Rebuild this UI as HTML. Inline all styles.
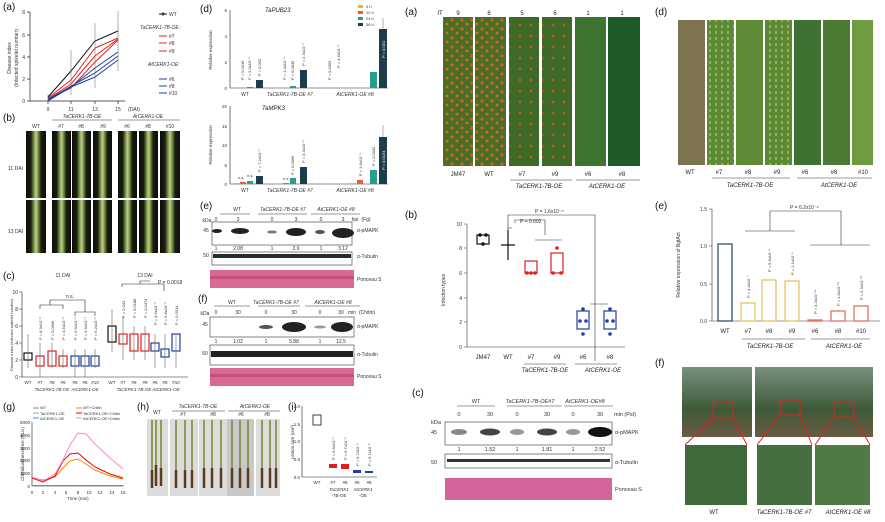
<!DOCTYPE html>
<html><head><meta charset="utf-8"><style>
html,body{margin:0;padding:0;background:#fff;}
svg{display:block;font-family:"Liberation Sans",Arial,sans-serif;}
.t{font-size:6px;fill:#222}
.s{font-size:5px;fill:#333}
.L{font-size:10px;fill:#111}
.i{font-style:italic}
</style></head><body>
<svg width="885" height="522" viewBox="0 0 885 522" xmlns="http://www.w3.org/2000/svg">
<defs>
<pattern id="rust" width="10" height="9" patternUnits="userSpaceOnUse">
<rect width="10" height="9" fill="#4a6e28"/><circle cx="2" cy="2" r="1.6" fill="#d0621e"/><circle cx="7" cy="6" r="1.4" fill="#d86a22"/></pattern>
<pattern id="rust2" width="11" height="11" patternUnits="userSpaceOnUse">
<rect width="11" height="11" fill="#3d6a26"/><circle cx="3" cy="3" r="1.4" fill="#c05a22"/></pattern>
<pattern id="spec" width="6" height="6" patternUnits="userSpaceOnUse">
<rect width="6" height="6" fill="#5c8a32"/><rect x="1" y="1" width="2" height="3" fill="#9aa86e"/></pattern>
<linearGradient id="spike" x1="0" x2="1"><stop offset="0" stop-color="#0d0d0d"/><stop offset=".25" stop-color="#1a2010"/><stop offset=".4" stop-color="#7a9a40"/><stop offset=".5" stop-color="#c9c6a0"/><stop offset=".6" stop-color="#7a9a40"/><stop offset=".75" stop-color="#1a2010"/><stop offset="1" stop-color="#0d0d0d"/></linearGradient>
<linearGradient id="field" x1="0" y1="0" x2="0" y2="1"><stop offset="0" stop-color="#7a8f80"/><stop offset=".6" stop-color="#3e5a38"/><stop offset="1" stop-color="#6b5a44"/></linearGradient>
</defs>

<!-- ===== Left (a) ===== -->
<text x="3" y="10" class="L">(a)</text>
<g stroke="#222" stroke-width=".7" fill="none">
<path d="M30 12V101H125"/>
<path d="M27 12H30M27 35H30M27 57H30M27 79H30M27 101H30M48 101v3M71 101v3M95 101v3M118 101v3"/>
</g>
<g class="s" text-anchor="end"><text x="25" y="14">8</text><text x="25" y="37">6</text><text x="25" y="59">4</text><text x="25" y="81">2</text><text x="25" y="103">0</text></g>
<g class="s" text-anchor="middle"><text x="48" y="111">9</text><text x="71" y="111">11</text><text x="95" y="111">13</text><text x="118" y="111">15</text><text x="134" y="111">(DAI)</text></g>
<text transform="translate(11,58) rotate(-90)" class="s" text-anchor="middle">Disease index</text>
<text transform="translate(18,58) rotate(-90)" class="s" text-anchor="middle">(Infected spikelet number)</text>
<g fill="none" stroke-width="1">
<polyline points="48,97 71,71 95,41 118,31" stroke="#111"/>
<polyline points="48,98 71,80 95,48 118,38" stroke="#e02020"/>
<polyline points="48,99 71,84 95,56 118,39" stroke="#e02020"/>
<polyline points="48,99 71,88 95,62 118,40" stroke="#e02020"/>
<polyline points="48,99 71,87 95,68 118,52" stroke="#2040a0"/>
<polyline points="48,100 71,86 95,73 118,56" stroke="#2040a0"/>
<polyline points="48,101 71,87 95,77 118,60" stroke="#2040a0"/>
</g>
<g stroke="#666" stroke-width=".5"><path d="M71 50V95M95 23V88M118 11V71M48 94V104"/></g>
<g class="s"><line x1="159" y1="14" x2="167" y2="14" stroke="#111"/><circle cx="163" cy="14" r="1.5"/><text x="169" y="16">WT</text>
<text x="140" y="29" class="i">TaCERK1-7B-OE:</text>
<line x1="159" y1="36" x2="167" y2="36" stroke="#e02020"/><text x="169" y="38">#7</text>
<line x1="159" y1="43" x2="167" y2="43" stroke="#e02020"/><text x="169" y="45">#8</text>
<line x1="159" y1="51" x2="167" y2="51" stroke="#e02020"/><text x="169" y="53">#9</text>
<text x="148" y="66" class="i">AtCERK1-OE:</text>
<line x1="159" y1="79" x2="167" y2="79" stroke="#2040a0"/><text x="169" y="81">#6</text>
<line x1="159" y1="86" x2="167" y2="86" stroke="#2040a0"/><text x="169" y="88">#8</text>
<line x1="159" y1="93" x2="167" y2="93" stroke="#2040a0"/><text x="169" y="95">#10</text></g>

<!-- ===== Left (b) photos ===== -->
<text x="3" y="121" class="L">(b)</text>
<g class="s" text-anchor="middle"><text x="36" y="128">WT</text><text x="82" y="118" class="i">TaCERK1-7B-OE</text><text x="148" y="118" class="i">AtCERK1-OE</text>
<text x="61" y="128">#7</text><text x="81" y="128">#8</text><text x="103" y="128">#9</text><text x="127" y="128">#6</text><text x="148" y="128">#8</text><text x="170" y="128">#10</text></g>
<path d="M52 120H112M118 120H180" stroke="#333" stroke-width=".5"/>
<text x="8" y="170" class="s">11 DAI</text><text x="8" y="233" class="s">13 DAI</text>
<g fill="url(#spike)">
<rect x="26" y="131" width="20" height="67"/><rect x="52" y="131" width="19" height="67"/><rect x="72" y="131" width="19" height="67"/><rect x="93" y="131" width="19" height="67"/><rect x="118" y="131" width="19" height="67"/><rect x="139" y="131" width="19" height="67"/><rect x="160" y="131" width="20" height="67"/>
<rect x="26" y="200" width="20" height="53"/><rect x="52" y="200" width="19" height="53"/><rect x="72" y="200" width="19" height="53"/><rect x="93" y="200" width="19" height="53"/><rect x="118" y="200" width="19" height="53"/><rect x="139" y="200" width="19" height="53"/><rect x="160" y="200" width="20" height="53"/>
</g>

<!-- ===== Left (c) boxplots ===== -->
<text x="3" y="279" class="L">(c)</text>
<text x="63" y="277" class="s" text-anchor="middle">11 DAI</text><text x="145" y="277" class="s" text-anchor="middle">13 DAI</text>
<text x="158" y="284" class="s">P = 0.0018</text>
<g stroke="#222" stroke-width=".6" fill="none">
<path d="M22 292V377H188M19 292h3M19 309h3M19 326h3M19 343h3M19 360h3M19 377h3"/>
<path d="M40 309V305H63V309M75 316V312H95V316M50 305V300H85V312M122 287V284H164V291M140 284V281H150"/>
</g>
<text x="66" y="298" class="s">n.s.</text>
<g class="s" text-anchor="end" font-size="4"><text x="18" y="294">10</text><text x="18" y="311">8</text><text x="18" y="328">6</text><text x="18" y="345">4</text><text x="18" y="362">2</text><text x="18" y="379">0</text></g>
<text transform="translate(13,335) rotate(-90)" font-size="4" text-anchor="middle" fill="#333">Disease index (infected spikelet number)</text>
<g fill="none" stroke-width="1.2">
<rect x="24" y="353" width="8" height="7" stroke="#111"/><rect x="36" y="356" width="8" height="10" stroke="#e02020"/><rect x="48" y="351" width="8" height="15" stroke="#e02020"/><rect x="59" y="356" width="8" height="10" stroke="#e02020"/>
<rect x="71" y="356" width="8" height="10" stroke="#2040a0"/><rect x="81" y="356" width="8" height="10" stroke="#2040a0"/><rect x="91" y="356" width="8" height="10" stroke="#2040a0"/>
<rect x="108" y="326" width="8" height="16" stroke="#111"/><rect x="119" y="334" width="8" height="10" stroke="#e02020"/><rect x="130" y="334" width="8" height="17" stroke="#e02020"/><rect x="141" y="334" width="8" height="17" stroke="#e02020"/>
<rect x="151" y="343" width="8" height="8" stroke="#2040a0"/><rect x="161" y="349" width="8" height="8" stroke="#2040a0"/><rect x="172" y="334" width="8" height="17" stroke="#2040a0"/>
</g>
<g stroke-width=".6"><path d="M28 334V368M40 343V377M52 343V368M63 349V368M75 349V377M85 349V377M95 349V368" stroke="#666"/><path d="M112 309V352M123 317V360M134 326V360M145 326V360M155 334V368M165 334V368M176 334V368" stroke="#666"/></g>
<g font-size="4" fill="#333"><text transform="translate(42,340) rotate(-90)">P = 8.3x10⁻³</text><text transform="translate(54,340) rotate(-90)">P = 0.0066</text><text transform="translate(65,340) rotate(-90)">P = 4.5x10⁻³</text><text transform="translate(77,340) rotate(-90)">P = 5.6x10⁻⁴</text><text transform="translate(87,340) rotate(-90)">P = 3.6x10⁻⁵</text><text transform="translate(97,340) rotate(-90)">P = 6.2x10⁻⁵</text>
<text transform="translate(125,318) rotate(-90)">P = 0.041</text><text transform="translate(136,318) rotate(-90)">P = 0.0188</text><text transform="translate(147,318) rotate(-90)">P = 0.0474</text><text transform="translate(157,325) rotate(-90)">P = 4.6x10⁻³</text><text transform="translate(167,325) rotate(-90)">P = 5.8x10⁻³</text><text transform="translate(178,325) rotate(-90)">P = 0.0014</text></g>
<g font-size="4.5" fill="#333" text-anchor="middle"><text x="28" y="384">WT</text><text x="40" y="384">#7</text><text x="52" y="384">#8</text><text x="63" y="384">#9</text><text x="75" y="384">#6</text><text x="85" y="384">#8</text><text x="95" y="384">#10</text>
<text x="112" y="384">WT</text><text x="123" y="384">#7</text><text x="134" y="384">#8</text><text x="145" y="384">#9</text><text x="155" y="384">#6</text><text x="165" y="384">#8</text><text x="176" y="384">#10</text>
<text x="52" y="391" class="i">TaCERK1-7B-OE</text><text x="85" y="391" class="i">AtCERK1-OE</text><text x="134" y="391" class="i">TaCERK1-7B-OE</text><text x="166" y="391" class="i">AtCERK1-OE</text></g>

<!-- ===== Left (g) ===== -->
<text x="3" y="410" class="L">(g)</text>
<g font-size="4" fill="#333"><text x="40" y="409">WT</text><text x="40" y="415">TaCERK1-OE</text><text x="40" y="420">AtCERK1-OE</text><text x="83" y="409">WT+Chitin</text><text x="83" y="415">TaCERK1-OE+Chitin</text><text x="83" y="420">AtCERK1-OE+Chitin</text></g>
<g stroke-width="1"><path d="M33 408h6" stroke="#888"/><path d="M33 413h6" stroke="#6c6"/><path d="M33 418h6" stroke="#39f"/><path d="M76 408h6" stroke="#f80"/><path d="M76 413h6" stroke="#e00"/><path d="M76 418h6" stroke="#f8c"/></g>
<g stroke="#222" stroke-width=".6" fill="none"><path d="M32 422V486H124"/></g>
<g font-size="4.5" fill="#333" text-anchor="end"><text x="30" y="424">5000</text><text x="30" y="437">4000</text><text x="30" y="450">3000</text><text x="30" y="462">2000</text><text x="30" y="475">1000</text><text x="30" y="488">0</text></g>
<g font-size="4.5" fill="#333" text-anchor="middle"><text x="32" y="494">0</text><text x="43" y="494">2</text><text x="55" y="494">4</text><text x="66" y="494">6</text><text x="78" y="494">8</text><text x="89" y="494">10</text><text x="100" y="494">12</text><text x="112" y="494">14</text><text x="123" y="494">16</text><text x="78" y="500">Time (min)</text></g>
<text transform="translate(24,454) rotate(-90)" font-size="4.5" fill="#333" text-anchor="middle">Chemiluminescence (RLU)</text>
<g fill="none" stroke-width="1">
<path d="M32 485.5H123" stroke="#39f"/>
<path d="M32 478 L43 480 L55 477 L63 468 L70 461 L78 459 L86 464 L95 470 L110 476 L123 479" stroke="#f80"/>
<path d="M32 478 L43 482 L55 476 L63 461 L70 454 L78 453 L86 460 L95 467 L110 474 L123 478" stroke="#e00"/>
<path d="M32 477 L43 481 L55 474 L63 460 L70 445 L78 433 L86 434 L95 444 L110 458 L123 469" stroke="#f8c"/>
</g>

<!-- ===== Left (h) ===== -->
<text x="137" y="410" class="L">(h)</text>
<g font-size="5" fill="#333" text-anchor="middle"><text x="157" y="414">WT</text><text x="198" y="408" class="i">TaCERK1-7B-OE</text><text x="255" y="408" class="i">AtCERK1-OE</text>
<text x="183" y="416">#7</text><text x="213" y="416">#8</text><text x="241" y="416">#6</text><text x="267" y="416">#8</text></g>
<path d="M172 411H225M228 411H280" stroke="#333" stroke-width=".5"/>
<g fill="#dcdcdc"><rect x="147" y="419" width="21" height="77"/><rect x="170" y="419" width="28" height="77"/><rect x="199" y="419" width="29" height="77"/><rect x="227" y="419" width="27" height="77" fill="#c8c8c8"/><rect x="256" y="419" width="24" height="77"/></g>
<g stroke-width="1.6" fill="none"><path d="M152 420V485M156 420V485M161 420V485M176 420V485M185 420V485M192 420V485M204 420V485M212 420V485M221 420V485M232 420V485M240 420V485M248 420V485M262 420V485M270 420V485M276 420V485" stroke="#7d8a3a"/>
<path d="M152 470V488M156 465V486M161 468V486M176 470V488M185 470V488M192 470V488M204 468V488M212 468V488M221 468V488M232 468V488M240 468V488M248 468V488M262 468V488M270 468V488M276 468V488" stroke="#5a3a22" stroke-width="2.5"/></g>

<!-- ===== Left (i) ===== -->
<text x="288" y="410" class="L">(i)</text>
<g stroke="#222" stroke-width=".6" fill="none"><path d="M302 406V477H377"/></g>
<g font-size="4.5" fill="#333" text-anchor="end"><text x="300" y="408">2.0</text><text x="300" y="426">1.5</text><text x="300" y="443">1.0</text><text x="300" y="461">0.5</text><text x="300" y="479">0.0</text></g>
<text transform="translate(294,442) rotate(-90)" font-size="4.5" fill="#333" text-anchor="middle">Lesion size (cm²)</text>
<rect x="313" y="415" width="8" height="10" fill="none" stroke="#111" stroke-width=".8"/>
<rect x="329" y="464" width="8" height="4" fill="#e02020"/><rect x="341" y="464" width="8" height="5" fill="#e02020"/><rect x="353" y="470" width="8" height="3" fill="#2040a0"/><rect x="365" y="471" width="8" height="2" fill="#2040a0"/>
<g font-size="4" fill="#333"><text transform="translate(335,460) rotate(-90)">P = 6.6x10⁻⁵</text><text transform="translate(347,460) rotate(-90)">P = 9.7x10⁻⁵</text><text transform="translate(359,466) rotate(-90)">P = 9.7x10⁻⁵</text><text transform="translate(371,466) rotate(-90)">P = 6.7x10⁻⁶</text></g>
<g font-size="4.5" fill="#333" text-anchor="middle"><text x="317" y="484">WT</text><text x="333" y="484">#7</text><text x="345" y="484">#8</text><text x="357" y="484">#6</text><text x="369" y="484">#8</text><text x="339" y="491" class="i">TaCERK1</text><text x="339" y="497">-7B-OE</text><text x="363" y="491" class="i">AtCERK1</text><text x="363" y="497">-OE</text></g>

<!-- ===== Middle (d) ===== -->
<text x="200" y="12" class="L">(d)</text>
<text x="265" y="12" class="t i">TaPUB23</text>
<g font-size="4" fill="#333"><rect x="358" y="5" width="5" height="3" fill="#f0b030"/><text x="366" y="8">0 h</text><rect x="358" y="11" width="5" height="3" fill="#e8603a"/><text x="366" y="14">12 h</text><rect x="358" y="17" width="5" height="3" fill="#2a9d8f"/><text x="366" y="20">24 h</text><rect x="358" y="23" width="5" height="3" fill="#1d3d4d"/><text x="366" y="26">36 h</text></g>
<g stroke="#222" stroke-width=".6" fill="none"><path d="M230 10V88H388M230 106V184H388"/></g>
<g font-size="4.5" fill="#333" text-anchor="end"><text x="227" y="12">6</text><text x="227" y="38">4</text><text x="227" y="64">2</text><text x="227" y="90">0</text>
<text x="227" y="108">20</text><text x="227" y="128">15</text><text x="227" y="147">10</text><text x="227" y="167">5</text><text x="227" y="186">0</text></g>
<text transform="translate(212,50) rotate(-90)" font-size="4.5" fill="#333" text-anchor="middle">Relative expression</text>
<text transform="translate(212,145) rotate(-90)" font-size="4.5" fill="#333" text-anchor="middle">Relative expression</text>
<rect x="247" y="87" width="6" height="1" fill="#2a9d8f"/><rect x="256" y="80" width="7" height="8" fill="#1d3d4d"/>
<rect x="290" y="86" width="6" height="2" fill="#2a9d8f"/><rect x="300" y="70" width="7" height="18" fill="#1d3d4d"/>
<rect x="370" y="72" width="7" height="16" fill="#2a9d8f"/><rect x="379" y="29" width="8" height="59" fill="#1d3d4d"/>
<path d="M383 29V18" stroke="#666" stroke-width=".5"/>
<g font-size="4" fill="#333"><text transform="translate(244,80) rotate(-90)">P = 0.0016</text><text transform="translate(251,80) rotate(-90)">P = 2.0x10⁻⁵</text><text transform="translate(261,76) rotate(-90)">P = 0.002</text>
<text transform="translate(286,80) rotate(-90)">P = 1.4x10⁻⁵</text><text transform="translate(294,80) rotate(-90)">P = 0.0045</text><text transform="translate(305,66) rotate(-90)">P = 2.3x10⁻⁵</text>
<text transform="translate(331,80) rotate(-90)">P = 0.0363</text><text transform="translate(340,68) rotate(-90)">P = 4.6x10⁻⁴</text><text transform="translate(385,58) rotate(-90)" fill="#fff">P = 0.001</text></g>
<g font-size="5" fill="#333" text-anchor="middle"><text x="245" y="96">WT</text><text x="290" y="96" class="i">TaCERK1-7B-OE #7</text><text x="355" y="96" class="i">AtCERK1-OE #8</text></g>
<text x="262" y="110" class="t i">TaMPK3</text>
<rect x="234" y="183" width="6" height="1" fill="#f0b030"/><rect x="240" y="182" width="6" height="2" fill="#e8603a"/><rect x="247" y="181" width="6" height="3" fill="#2a9d8f"/><rect x="256" y="176" width="7" height="8" fill="#1d3d4d"/>
<rect x="283" y="183" width="6" height="1" fill="#e8603a"/><rect x="290" y="178" width="6" height="6" fill="#2a9d8f"/><rect x="300" y="167" width="7" height="17" fill="#1d3d4d"/>
<rect x="350" y="183" width="6" height="1" fill="#f0b030"/><rect x="357" y="180" width="6" height="4" fill="#e8603a"/><rect x="370" y="170" width="7" height="14" fill="#2a9d8f"/><rect x="379" y="137" width="8" height="47" fill="#1d3d4d"/>
<path d="M383 137V125" stroke="#666" stroke-width=".5"/>
<g font-size="4" fill="#333"><text x="238" y="179">n.s.</text><text x="247" y="177">n.s.</text><text transform="translate(261,172) rotate(-90)">P = 7.2x10⁻⁵</text><text x="283" y="180">n.s.</text><text transform="translate(294,175) rotate(-90)">P = 0.0069</text><text transform="translate(305,163) rotate(-90)">P = 3.3x10⁻⁵</text>
<text transform="translate(362,176) rotate(-90)">P = 1.6x10⁻⁵</text><text transform="translate(375,166) rotate(-90)">P = 0.0042</text><text transform="translate(385,170) rotate(-90)" fill="#fff">P = 0.0134</text></g>
<g font-size="5" fill="#333" text-anchor="middle"><text x="245" y="192">WT</text><text x="290" y="192" class="i">TaCERK1-7B-OE #7</text><text x="355" y="192" class="i">AtCERK1-OE #8</text></g>

<!-- ===== Middle (e) blot ===== -->
<text x="200" y="209" class="L">(e)</text>
<g font-size="5" fill="#333" text-anchor="middle"><text x="237" y="211">WT</text><text x="283" y="211" class="i">TaCERK1-7B-OE #7</text><text x="336" y="211" class="i">AtCERK1-OE #8</text>
<text x="216" y="221">0</text><text x="238" y="221">3</text><text x="272" y="221">0</text><text x="296" y="221">3</text><text x="321" y="221">0</text><text x="343" y="221">3</text><text x="355" y="221">hpi</text><text x="366" y="221">(Fg)</text>
<text x="207" y="222">kDa</text><text x="206" y="232">45</text><text x="206" y="257">50</text>
<text x="216" y="250">1</text><text x="238" y="250">2.08</text><text x="272" y="250">1</text><text x="296" y="250">2.9</text><text x="321" y="250">1</text><text x="343" y="250">3.12</text></g>
<path d="M220 214H250M258 214H307M311 214H360" stroke="#333" stroke-width=".5"/>
<rect x="212" y="222" width="140" height="23" fill="#fff" stroke="#333" stroke-width=".6"/>
<g fill="#222"><ellipse cx="217" cy="231" rx="5" ry="2"/><ellipse cx="240" cy="231" rx="9" ry="3"/><ellipse cx="272" cy="232" rx="5" ry="1.5" fill="#777"/><ellipse cx="296" cy="232" rx="10" ry="4"/><ellipse cx="320" cy="232" rx="5" ry="2" fill="#555"/><ellipse cx="343" cy="233" rx="11" ry="5"/></g>
<rect x="212" y="252" width="140" height="13" fill="#fff" stroke="#333" stroke-width=".6"/>
<rect x="213" y="254" width="138" height="4" fill="#2a2a2a"/>
<rect x="210" y="270" width="144" height="18" fill="#d86a92"/><rect x="210" y="276" width="144" height="3" fill="#c5507e"/>
<g font-size="5" fill="#333"><text x="357" y="232">α-pMAPK</text><text x="357" y="258">α-Tubulin</text><text x="357" y="281">Ponceau S</text></g>

<!-- ===== Middle (f) blot ===== -->
<text x="198" y="302" class="L">(f)</text>
<g font-size="5" fill="#333" text-anchor="middle"><text x="232" y="304">WT</text><text x="276" y="304" class="i">TaCERK1-7B-OE #7</text><text x="333" y="304" class="i">AtCERK1-OE #8</text>
<text x="216" y="314">0</text><text x="238" y="314">30</text><text x="266" y="314">0</text><text x="294" y="314">30</text><text x="320" y="314">0</text><text x="341" y="314">30</text><text x="352" y="314">min</text><text x="367" y="314">(Chitin)</text>
<text x="205" y="315">kDa</text><text x="205" y="326">45</text><text x="205" y="355">50</text>
<text x="216" y="343">1</text><text x="238" y="343">1.02</text><text x="266" y="343">1</text><text x="294" y="343">5.88</text><text x="320" y="343">1</text><text x="341" y="343">12.5</text></g>
<path d="M214 306H250M258 306H300M305 306H360" stroke="#333" stroke-width=".5"/>
<rect x="210" y="317" width="144" height="20" fill="#fff" stroke="#333" stroke-width=".6"/>
<g fill="#222"><ellipse cx="266" cy="327" rx="7" ry="2" fill="#555"/><ellipse cx="294" cy="327" rx="12" ry="5"/><ellipse cx="320" cy="327" rx="6" ry="1.5" fill="#999"/><ellipse cx="342" cy="327" rx="11" ry="5"/></g>
<rect x="210" y="345" width="144" height="20" fill="#fff" stroke="#333" stroke-width=".6"/>
<rect x="211" y="351" width="142" height="6" fill="#222"/>
<rect x="210" y="368" width="144" height="18" fill="#d86a92"/><rect x="210" y="374" width="144" height="3" fill="#c5507e"/>
<g font-size="5" fill="#333"><text x="357" y="328">α-pMAPK</text><text x="357" y="356">α-Tubulin</text><text x="357" y="378">Ponceau S</text></g>

<!-- ===== Right (a) ===== -->
<text x="405" y="15" class="L">(a)</text>
<g class="t" text-anchor="middle"><text x="440" y="15">IT</text><text x="458" y="15">9</text><text x="489" y="15">8</text><text x="522" y="15">5</text><text x="555" y="15">6</text><text x="588" y="15">1</text><text x="622" y="15">1</text></g>
<rect x="443" y="17" width="30" height="149" fill="url(#rust)"/><rect x="475" y="17" width="31" height="149" fill="url(#rust)"/>
<rect x="509" y="17" width="30" height="149" fill="url(#rust2)"/><rect x="542" y="17" width="30" height="149" fill="url(#rust2)"/>
<rect x="575" y="17" width="31" height="149" fill="#3d7430"/><rect x="608" y="17" width="32" height="149" fill="#1f5a2a"/>
<g class="t" text-anchor="middle"><text x="458" y="176">JM47</text><text x="489" y="176">WT</text><text x="522" y="176">#7</text><text x="555" y="176">#9</text><text x="588" y="176">#6</text><text x="622" y="176">#8</text>
<text x="539" y="188" class="i">TaCERK1-7B-OE</text><text x="607" y="188" class="i">AtCERK1-OE</text></g>
<path d="M510 180H572M576 180H640" stroke="#333" stroke-width=".5"/>

<!-- ===== Right (d) ===== -->
<text x="655" y="15" class="L">(d)</text>
<rect x="678" y="20" width="195" height="145" fill="#fff"/>
<rect x="678" y="20" width="27" height="145" fill="#7d7350"/>
<rect x="707" y="20" width="27" height="145" fill="url(#spec)"/><rect x="736" y="20" width="27" height="145" fill="#5f8a36"/><rect x="765" y="20" width="27" height="145" fill="url(#spec)"/>
<rect x="794" y="20" width="27" height="145" fill="#3e7230"/><rect x="823" y="20" width="27" height="145" fill="#4a7a34"/><rect x="852" y="20" width="21" height="145" fill="#6e9a40"/>
<g class="t" text-anchor="middle"><text x="690" y="174">WT</text><text x="719" y="174">#7</text><text x="748" y="174">#8</text><text x="777" y="174">#9</text><text x="805" y="174">#6</text><text x="834" y="174">#8</text><text x="863" y="174">#10</text>
<text x="750" y="187" class="i">TaCERK1-7B-OE</text><text x="839" y="187" class="i">AtCERK1-OE</text></g>
<path d="M712 178H790M797 178H872" stroke="#333" stroke-width=".5"/>

<!-- ===== Right (b) ===== -->
<text x="405" y="218" class="L">(b)</text>
<g stroke="#333" stroke-width=".6" fill="none"><path d="M467 224V347H625M464 224h3M464 248h3M464 273h3M464 298h3M464 322h3M464 347h3"/>
<path d="M508 231V215H595V361M508 228H512M515 223V220H545V235M535 240H562M590 304H608"/></g>
<g class="s" text-anchor="end"><text x="462" y="226">10</text><text x="462" y="250">8</text><text x="462" y="275">6</text><text x="462" y="300">4</text><text x="462" y="324">2</text><text x="462" y="349">0</text></g>
<text transform="translate(445,290) rotate(-90)" class="s" text-anchor="middle">Infection types</text>
<text x="535" y="213" class="s">P = 1.6x10⁻⁶</text><text x="520" y="223" class="s">P = 0.002</text>
<g stroke-width="1.2" fill="none"><rect x="477" y="235" width="12" height="9" stroke="#111"/><path d="M501 245H515M508 230V260" stroke="#111"/>
<rect x="525" y="261" width="12" height="12" stroke="#e02020"/><rect x="551" y="253" width="12" height="20" stroke="#e02020"/>
<rect x="577" y="311" width="12" height="18" stroke="#2040a0"/><rect x="604" y="311" width="12" height="18" stroke="#2040a0"/></g>
<g fill="#e02020"><circle cx="527" cy="273" r="1.8"/><circle cx="531" cy="273" r="1.8"/><circle cx="535" cy="273" r="1.8"/><circle cx="553" cy="273" r="1.8"/><circle cx="561" cy="273" r="1.8"/><circle cx="557" cy="248" r="1.8"/></g>
<g fill="#2040a0"><circle cx="580" cy="321" r="1.8"/><circle cx="586" cy="321" r="1.8"/><circle cx="583" cy="309" r="1.8"/><circle cx="583" cy="334" r="1.8"/><circle cx="607" cy="321" r="1.8"/><circle cx="613" cy="321" r="1.8"/><circle cx="610" cy="309" r="1.8"/><circle cx="610" cy="334" r="1.8"/></g>
<g fill="#111"><circle cx="480" cy="235" r="1.8"/><circle cx="486" cy="235" r="1.8"/><circle cx="483" cy="244" r="1.8"/></g>
<g class="t" text-anchor="middle"><text x="483" y="359">JM47</text><text x="508" y="359">WT</text><text x="531" y="359">#7</text><text x="557" y="359">#9</text><text x="583" y="359">#6</text><text x="610" y="359">#8</text>
<text x="545" y="372" class="i">TaCERK1-7B-OE</text><text x="603" y="372" class="i">AtCERK1-OE</text></g>
<path d="M524 364H566M575 364H617" stroke="#333" stroke-width=".5"/>

<!-- ===== Right (c) blot ===== -->
<text x="412" y="396" class="L">(c)</text>
<g font-size="5.5" fill="#333" text-anchor="middle"><text x="476" y="403">WT</text><text x="530" y="403" class="i">TaCERK1-7B-OE#7</text><text x="585" y="403" class="i">AtCERK1-OE#8</text>
<text x="459" y="416">0</text><text x="490" y="416">30</text><text x="517" y="416">0</text><text x="547" y="416">30</text><text x="573" y="416">0</text><text x="600" y="416">30</text><text x="625" y="416">min (Pst)</text>
<text x="436" y="424">kDa</text><text x="434" y="434">45</text><text x="434" y="464">50</text>
<text x="459" y="451">1</text><text x="490" y="451">1.52</text><text x="517" y="451">1</text><text x="547" y="451">1.81</text><text x="573" y="451">1</text><text x="600" y="451">2.52</text></g>
<path d="M457 406H495M507 406H562M564 406H613" stroke="#333" stroke-width=".5"/>
<rect x="445" y="422" width="167" height="23" fill="#fff" stroke="#333" stroke-width=".6"/>
<g fill="#333"><ellipse cx="459" cy="432" rx="8" ry="3" fill="#888"/><ellipse cx="490" cy="432" rx="10" ry="3.5" fill="#444"/><ellipse cx="517" cy="432" rx="7" ry="3" fill="#999"/><ellipse cx="547" cy="432" rx="10" ry="3.5" fill="#444"/><ellipse cx="573" cy="432" rx="7" ry="3" fill="#999"/><ellipse cx="600" cy="432" rx="12" ry="5" fill="#111"/></g>
<rect x="445" y="454" width="167" height="14" fill="#fff" stroke="#333" stroke-width=".6"/>
<rect x="447" y="459" width="163" height="3" fill="#333"/>
<rect x="445" y="478" width="167" height="22" fill="#d4649a"/>
<g font-size="5.5" fill="#333"><text x="615" y="434">α-pMAPK</text><text x="615" y="464">α-Tubulin</text><text x="615" y="491">Ponceau S</text></g>

<!-- ===== Right (e) ===== -->
<text x="655" y="209" class="L">(e)</text>
<g stroke="#333" stroke-width=".6" fill="none"><path d="M712 209V321H880M709 209h3M709 246h3M709 284h3M709 321h3"/>
<path d="M745 231H795M770 231V211H841V245M810 245H870"/></g>
<text x="790" y="209" class="s">P = 6.2x10⁻⁶</text>
<g class="s" text-anchor="end"><text x="707" y="211">1.5</text><text x="707" y="248">1.0</text><text x="707" y="286">0.5</text><text x="707" y="323">0.0</text></g>
<text transform="translate(680,265) rotate(-90)" class="s" text-anchor="middle">Relative expression of BgtAct</text>
<g fill="none" stroke-width="1.3"><rect x="718" y="244" width="14" height="77" stroke="#2b5468"/>
<rect x="741" y="303" width="14" height="18" stroke="#e8c060"/><rect x="762" y="280" width="14" height="41" stroke="#e8c060"/><rect x="785" y="281" width="14" height="40" stroke="#e8c060"/>
<rect x="808" y="320" width="14" height="1" stroke="#e8705a"/><rect x="831" y="311" width="14" height="10" stroke="#e8705a"/><rect x="854" y="306" width="14" height="15" stroke="#e8705a"/></g>
<g font-size="4" fill="#333"><text transform="translate(750,298) rotate(-90)">P = 4.4x10⁻⁷</text><text transform="translate(771,272) rotate(-90)">P = 5.6x10⁻⁴</text><text transform="translate(794,275) rotate(-90)">P = 1.1x10⁻⁵</text>
<text transform="translate(817,314) rotate(-90)">P = 3.2x10⁻¹⁴</text><text transform="translate(840,306) rotate(-90)">P = 1.8x10⁻¹¹</text><text transform="translate(863,300) rotate(-90)">P = 2.3x10⁻¹⁰</text></g>
<g class="t" text-anchor="middle"><text x="725" y="333">WT</text><text x="748" y="333">#7</text><text x="769" y="333">#8</text><text x="792" y="333">#9</text><text x="815" y="333">#6</text><text x="838" y="333">#8</text><text x="861" y="333">#10</text>
<text x="770" y="348" class="i">TaCERK1-7B-OE</text><text x="844" y="348" class="i">AtCERK1-OE</text></g>
<path d="M742 339H805M811 339H870" stroke="#333" stroke-width=".5"/>

<!-- ===== Right (f) ===== -->
<text x="655" y="366" class="L">(f)</text>
<rect x="682" y="367" width="70" height="70" fill="url(#field)"/><rect x="755" y="367" width="118" height="70" fill="url(#field)"/>
<rect x="685" y="445" width="62" height="60" fill="#3f6a3c"/><rect x="757" y="445" width="55" height="60" fill="#456f40"/><rect x="815" y="445" width="55" height="60" fill="#4f7a45"/>
<g fill="none" stroke="#e02020" stroke-width="1"><rect x="713" y="403" width="20" height="15"/><rect x="780" y="400" width="20" height="15"/><rect x="834" y="403" width="20" height="14"/>
<path d="M713 418L685 445M733 418L747 445M780 415L757 445M800 415L812 445M834 417L815 445M854 417L870 445"/></g>
<g class="t" text-anchor="middle"><text x="714" y="514">WT</text><text x="784" y="514" class="i">TaCERK1-7B-OE #7</text><text x="848" y="514" class="i">AtCERK1-OE #8</text></g>
</svg>
</body></html>
